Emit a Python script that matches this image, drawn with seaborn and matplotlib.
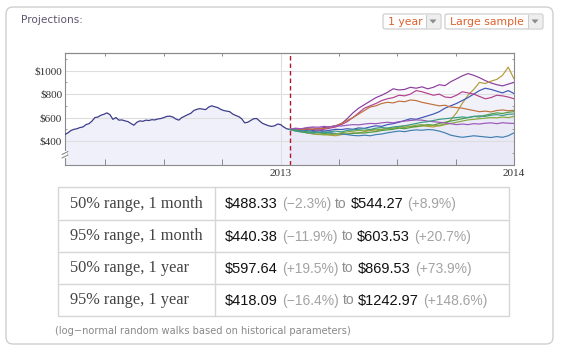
import numpy as np
import pandas as pd
import matplotlib
matplotlib.use("Agg")
import matplotlib.pyplot as plt
import seaborn as sns
from matplotlib.patches import FancyBboxPatch, Rectangle, Polygon
from matplotlib.lines import Line2D
from matplotlib.transforms import IdentityTransform
from matplotlib.ticker import FixedLocator, FixedFormatter, MultipleLocator

# ---------------- data ----------------
hist_start, hist_end = 2012.077, 2013.039      # decimal years
proj_end = 2014.0
hist_values = [456, 470, 490, 500, 505, 515, 520, 540, 548, 570,
               600, 605, 620, 628, 640, 625, 585, 600, 578, 580,
               572, 566, 550, 535, 560, 572, 568, 578, 575, 582,
               580, 588, 592, 600, 610, 612, 605, 588, 578, 600,
               612, 625, 636, 660, 670, 676, 672, 668, 690, 700,
               692, 685, 670, 660, 655, 650, 630, 618, 608, 590,
               555, 560, 575, 590, 592, 570, 550, 540, 530, 525,
               530, 545, 540, 520, 505, 499]

path_purple = [499, 505, 498, 510, 512, 506, 515, 522, 530, 548, 590, 640, 680, 710, 740, 770, 790, 815, 845, 835,
               840, 858, 850, 862, 845, 858, 880, 872, 905, 930, 955, 975, 960, 940, 915, 895, 880, 870, 885, 900]
path_gold = [499, 490, 480, 470, 462, 455, 460, 450, 445, 455, 460, 470, 465, 480, 490, 485, 500, 510, 505, 520,
             530, 525, 520, 530, 525, 520, 535, 545, 580, 640, 720, 790, 840, 900, 890, 910, 925, 960, 1030, 930]
path_blue = [499, 495, 505, 500, 490, 495, 485, 492, 500, 498, 505, 500, 512, 508, 520, 530, 525, 540, 548, 560,
             575, 590, 585, 600, 615, 630, 650, 680, 700, 720, 745, 770, 800, 830, 850, 840, 825, 810, 830, 805]
path_magenta = [499, 505, 495, 500, 498, 492, 500, 510, 520, 540, 565, 600, 640, 680, 700, 720, 745, 760, 770, 790,
                785, 800, 830, 820, 805, 790, 800, 775, 770, 790, 820, 810, 800, 780, 760, 770, 790, 785, 775, 760]
path_orange = [499, 502, 495, 505, 500, 510, 505, 520, 530, 550, 575, 600, 630, 660, 690, 700, 720, 730, 725, 740,
               735, 750, 745, 730, 720, 710, 700, 705, 690, 685, 680, 670, 660, 650, 655, 648, 660, 665, 658, 662]
path_green = [499, 490, 485, 480, 475, 470, 465, 468, 460, 462, 458, 465, 470, 468, 475, 480, 490, 495, 500, 510,
              505, 515, 525, 530, 540, 535, 550, 560, 570, 580, 590, 600, 610, 605, 620, 630, 640, 635, 645, 650]
path_steel = [499, 495, 488, 490, 482, 478, 480, 470, 465, 460, 455, 448, 445, 450, 445, 455, 460, 470, 478, 485,
              480, 490, 495, 492, 498, 495, 485, 470, 450, 440, 432, 438, 445, 440, 435, 430, 438, 432, 445, 470]
path_lime = [499, 488, 478, 470, 462, 458, 452, 455, 460, 470, 478, 485, 490, 488, 495, 500, 498, 505, 510, 520,
             515, 525, 535, 540, 530, 535, 528, 540, 550, 560, 570, 580, 585, 590, 595, 600, 598, 605, 600, 610]
path_violet = [499, 510, 505, 515, 520, 518, 525, 520, 530, 528, 535, 540, 538, 545, 550, 548, 555, 560, 555, 565,
               570, 575, 580, 578, 570, 565, 560, 555, 548, 540, 545, 540, 548, 545, 552, 555, 548, 556, 552, 550]
path_teal = [499, 485, 478, 472, 468, 475, 470, 480, 485, 478, 490, 495, 500, 505, 498, 510, 515, 510, 520, 525,
             530, 540, 550, 560, 565, 575, 585, 590, 595, 600, 605, 600, 610, 615, 610, 620, 625, 618, 628, 630]

paths = {"purple": path_purple, "gold": path_gold, "blue": path_blue, "magenta": path_magenta,
         "orange": path_orange, "green": path_green, "steel": path_steel, "lime": path_lime,
         "violet": path_violet, "teal": path_teal}
path_colors = {"purple": "#8a3c9e", "gold": "#b39b3a", "blue": "#3d55b5", "magenta": "#b2418f",
               "orange": "#c0703c", "green": "#4c9e3e", "steel": "#3f7fae", "lime": "#86a83c",
               "violet": "#9a55b8", "teal": "#3a9a86"}

y_ticks = [400, 600, 800, 1000]
y_labels = ["\\$400", "\\$600", "\\$800", "\\$1000"]
x_quarters = [2012.25, 2012.5, 2012.75, 2013.0, 2013.25, 2013.5, 2013.75, 2014.0]
x_labels = ["", "", "", "2013", "", "", "", "2014"]

row_labels = ["50% range, 1 month", "95% range, 1 month", "50% range, 1 year", "95% range, 1 year"]
low_vals = ["488.33", "440.38", "597.64", "418.09"]
low_pct = ["−2.3%", "−11.9%", "+19.5%", "−16.4%"]
high_vals = ["544.27", "603.53", "869.53", "1242.97"]
high_pct = ["+8.9%", "+20.7%", "+73.9%", "+148.6%"]

# ---------------- figure ----------------
sns.set_theme(style="white")
plt.rcParams["font.family"] = ["DejaVu Sans"]

W, H = 561, 352
fig = plt.figure(figsize=(W / 100, H / 100), dpi=100)
fig.patch.set_facecolor("white")
ID = IdentityTransform()


def fx(x):
    return x / W


def fy(y):
    return 1 - y / H


# panel (behind everything)
panel = FancyBboxPatch((6, H - 344), 547, 337, boxstyle="round,pad=0,rounding_size=7",
                       transform=ID, facecolor="white", edgecolor="#cfcfcf", lw=1.0, zorder=-10)
fig.add_artist(panel)

fig.text(fx(21), fy(20), "Projections:", fontsize=7.6, color="#5c5470", va="center", ha="left")


def dropdown(x0, x1, text):
    y0, y1 = 14, 29
    box = FancyBboxPatch((x0, H - y1), x1 - x0, y1 - y0, boxstyle="round,pad=0,rounding_size=2",
                         transform=ID, facecolor="white", edgecolor="#c8c8c8", lw=0.8)
    fig.add_artist(box)
    ax0 = x1 - 15
    fig.add_artist(Rectangle((ax0, H - y1 + 1), 14, y1 - y0 - 2, transform=ID,
                             facecolor="#eeeeee", edgecolor="none"))
    fig.add_artist(Line2D([ax0, ax0], [H - y1 + 1, H - y0 - 1], transform=ID, color="#cccccc", lw=0.8))
    cx, cy = ax0 + 7, H - 21.5
    fig.add_artist(Polygon([[cx - 3.5, cy + 2], [cx + 3.5, cy + 2], [cx, cy - 2]], closed=True,
                           transform=ID, facecolor="#8a8a8a", edgecolor="none"))
    fig.text(fx(x0 + 5), fy(21.8), text, fontsize=7.8, color="#e0602c", va="center", ha="left")


dropdown(383, 441, "1 year")
dropdown(445, 543, "Large sample")

# ---------------- chart ----------------
ax = fig.add_axes([65 / W, 1 - 165 / H, 449 / W, 112 / H])
ax.set_zorder(2)
ax.set_facecolor("white")
YMIN, YMAX = 196, 1150

hist_t = np.linspace(hist_start, hist_end, len(hist_values))
proj_t = np.linspace(hist_end, proj_end, len(path_purple))

ax.fill_between(hist_t, hist_values, YMIN, color="#f0f0fa", lw=0, zorder=0.5)
for name, vals in paths.items():
    ax.fill_between(proj_t, vals, YMIN, color="#e9e9f7", alpha=0.2, lw=0, zorder=0.5)

for yv in y_ticks:
    ax.axhline(yv, color="#dedede", lw=0.8, zorder=0.6)
ax.axvline(2013.0, color="#dedede", lw=0.8, zorder=0.6)

sns.lineplot(x=hist_t, y=hist_values, ax=ax, color="#3c3c8a", lw=0.9, zorder=3)

proj_df = pd.DataFrame({
    "t": np.concatenate([proj_t for _ in paths]),
    "value": np.concatenate([paths[k] for k in paths]),
    "path": np.concatenate([[k] * len(paths[k]) for k in paths]),
})
sns.lineplot(data=proj_df, x="t", y="value", hue="path", palette=path_colors, ax=ax,
             lw=0.85, estimator=None, legend=False, zorder=3)

ax.axvline(hist_end, ymax=0.985, color="#b0182d", lw=1.0, ls=(0, (3.2, 2.2)), zorder=4)

ax.set_xlim(hist_start, proj_end)
ax.set_ylim(YMIN, YMAX)
ax.set_xlabel("")
ax.set_ylabel("")

ax.xaxis.set_major_locator(FixedLocator(x_quarters))
ax.xaxis.set_major_formatter(FixedFormatter(x_labels))
ax.yaxis.set_major_locator(FixedLocator(y_ticks))
ax.yaxis.set_major_formatter(FixedFormatter(y_labels))
ax.yaxis.set_minor_locator(MultipleLocator(100))

ax.tick_params(axis="x", which="major", direction="in", length=4.5, width=0.7, color="#8a8a8a",
               bottom=True, top=False, pad=3, labelsize=8, labelcolor="#333333")
ax.tick_params(axis="y", which="major", direction="in", length=3, width=0.7, color="#8a8a8a",
               left=True, right=True, pad=2, labelsize=8, labelcolor="#333333")
ax.tick_params(axis="y", which="minor", direction="in", length=1.6, width=0.6, color="#8a8a8a",
               left=True, right=True)
for lab in ax.get_xticklabels() + ax.get_yticklabels():
    lab.set_family("Liberation Serif")

sec = ax.secondary_xaxis("top")
sec.xaxis.set_major_locator(FixedLocator(x_quarters))
sec.xaxis.set_major_formatter(FixedFormatter([""] * len(x_quarters)))
sec.tick_params(direction="in", length=2.2, width=0.7, color="#8a8a8a")
sec.spines["top"].set_color("#8a8a8a")
sec.spines["top"].set_linewidth(0.8)

for s in ax.spines.values():
    s.set_color("#8a8a8a")
    s.set_linewidth(0.8)

# y-axis break mark
fig.add_artist(Rectangle((63, H - 158), 4, 7, transform=ID, facecolor="white", edgecolor="none", zorder=10))
for dy in (0, 3.5):
    fig.add_artist(Line2D([62, 68], [H - 158 + dy, H - 155 + dy], transform=ID, color="#8a8a8a",
                          lw=0.8, zorder=11))

# ---------------- table ----------------
TL, TR, TT, TB = 58, 509, 187, 316
row_edges = [187, 220, 252, 284, 316]
col_div = 215
lc = "#d6d6d6"
fig.add_artist(Rectangle((TL, H - TB), TR - TL, TB - TT, transform=ID, facecolor="none", edgecolor=lc, lw=1.0))
for ry in row_edges[1:-1]:
    fig.add_artist(Line2D([TL, TR], [H - ry, H - ry], transform=ID, color=lc, lw=1.0))
fig.add_artist(Line2D([col_div, col_div], [H - TB, H - TT], transform=ID, color=lc, lw=1.0))

renderer = fig.canvas.get_renderer()
for i, lab in enumerate(row_labels):
    yc = (row_edges[i] + row_edges[i + 1]) / 2 + 0.5
    fig.text(fx(70), fy(yc), lab, fontsize=11.8, family="Liberation Serif", color="#444444",
             va="center", ha="left")
    parts = [("\\$" + low_vals[i], "#111111", 10.5), ("(" + low_pct[i] + ")", "#a3a3a3", 10),
             ("to", "#8c8c8c", 10), ("\\$" + high_vals[i], "#111111", 10.5),
             ("(" + high_pct[i] + ")", "#a3a3a3", 10)]
    x = 225
    for s, c, fs in parts:
        t = fig.text(fx(x), fy(yc), s, fontsize=fs, family="Liberation Sans", color=c,
                     va="center", ha="left")
        bb = t.get_window_extent(renderer)
        x = bb.x1 + 4

fig.text(fx(55), fy(331), "(log−normal random walks based on historical parameters)", fontsize=7.1,
         color="#888888", va="center", ha="left")

fig.savefig("out.png", dpi=100, facecolor="white")
